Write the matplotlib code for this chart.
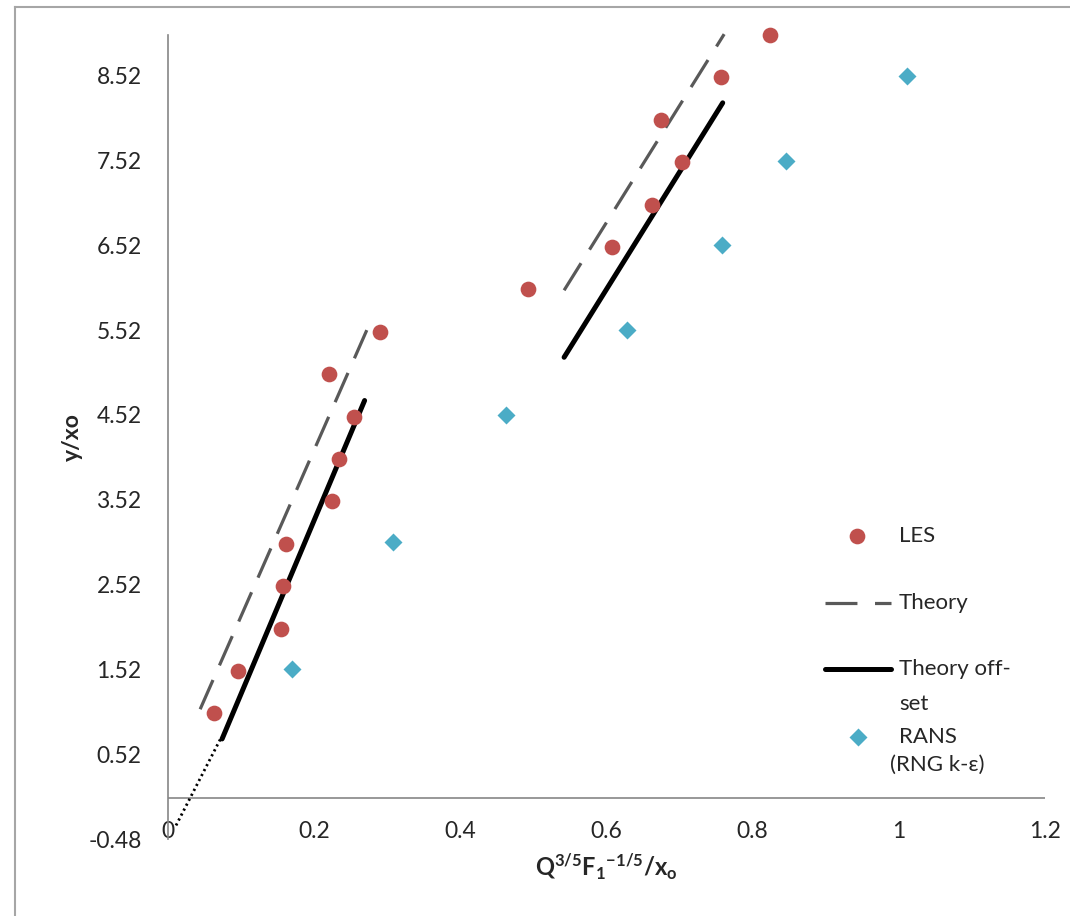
import numpy as np
import matplotlib.pyplot as plt
from matplotlib.lines import Line2D

plt.rcParams['font.family'] = ['Lato', 'DejaVu Sans']
plt.rcParams['mathtext.fontset'] = 'custom'
plt.rcParams['mathtext.rm'] = 'Lato'
plt.rcParams['mathtext.bf'] = 'Lato:bold'
plt.rcParams['mathtext.default'] = 'bf'

# LES points
les_x = [0.063, 0.096, 0.155, 0.157, 0.161, 0.224, 0.234, 0.254, 0.220, 0.290,
         0.492, 0.607, 0.662, 0.703, 0.674, 0.756, 0.824]
les_y = [1.0, 1.5, 2.0, 2.5, 3.0, 3.5, 4.0, 4.5, 5.0, 5.5,
         6.0, 6.5, 7.0, 7.5, 8.0, 8.5, 9.0]

# RANS (RNG k-eps) points
rans_x = [0.170, 0.308, 0.462, 0.628, 0.758, 0.845, 1.011]
rans_y = [1.52, 3.02, 4.52, 5.52, 6.52, 7.52, 8.52]

# theory lines (two segments each)
theory1_x = [0.044, 0.272]
theory1_y = [1.05, 5.52]
theory2_x = [0.542, 0.761]
theory2_y = [5.99, 9.01]
offset1_x = [0.074, 0.269]
offset1_y = [0.70, 4.69]
offset2_x = [0.542, 0.759]
offset2_y = [5.20, 8.20]
extrap_x = [0.011, 0.073]
extrap_y = [-0.32, 0.72]

xticks = [0, 0.2, 0.4, 0.6, 0.8, 1.0, 1.2]
xtick_labels = ['0', '0.2', '0.4', '0.6', '0.8', '1', '1.2']
yticks = [-0.48, 0.52, 1.52, 2.52, 3.52, 4.52, 5.52, 6.52, 7.52, 8.52]
ytick_labels = ['-0.48', '0.52', '1.52', '2.52', '3.52', '4.52', '5.52', '6.52', '7.52', '8.52']

W, H = 1070, 916
fig = plt.figure(figsize=(W / 100, H / 100), dpi=100)
ax = fig.add_axes([168 / W, 1 - 839 / H, (1045 - 168) / W, (839 - 35) / H])

red = '#C0504D'
blue = '#4BACC6'
dash_grey = '#595959'

ax.plot(extrap_x, extrap_y, color='black', lw=2.0, linestyle=(0, (0.8, 1.2)))
ax.plot(theory1_x, theory1_y, color=dash_grey, lw=2.3, dashes=[10, 5])
ax.plot(theory2_x, theory2_y, color=dash_grey, lw=2.3, dashes=[10, 5], clip_on=False)
ax.plot(offset1_x, offset1_y, color='black', lw=3.6, solid_capstyle='round')
ax.plot(offset2_x, offset2_y, color='black', lw=3.6, solid_capstyle='round')
ax.plot(les_x, les_y, 'o', color=red, ms=11.3, mec='none', zorder=4, clip_on=False)
ax.plot(rans_x, rans_y, 'D', color=blue, ms=9.6, mec='none', zorder=4, clip_on=False)

ax.set_xlim(0, 1.2)
ax.set_ylim(-0.48, 9.0)
ax.axhline(0, color='#868686', lw=1.2, zorder=1)

for s in ['top', 'right', 'bottom']:
    ax.spines[s].set_visible(False)
ax.spines['left'].set_color('#868686')
ax.spines['left'].set_linewidth(1.2)

ax.set_xticks(xticks)
ax.set_xticklabels(xtick_labels)
ax.set_yticks(yticks)
ax.set_yticklabels(ytick_labels)
ax.tick_params(axis='both', length=0, labelsize=16.5, colors='#262626')
ax.tick_params(axis='y', pad=19)
ax.tick_params(axis='x', pad=-13)

fig.text(72 / W, 1 - 437 / H, 'y/xo', rotation=90, fontsize=16.5, fontweight='bold',
         ha='center', va='center', color='#262626')
fig.text(606 / W, 1 - 867 / H, r'$Q^{3/5}F_1{}^{-1/5}/x_o$', fontsize=17,
         ha='center', va='center', color='#262626')

# legend drawn by hand to match the spreading of entries
def fx(px):
    return px / W

def fy(py):
    return 1 - py / H

fig.add_artist(Line2D([fx(857)], [fy(536)], marker='o', color=red, ms=11.3, mec='none'))
fig.add_artist(Line2D([fx(825), fx(891)], [fy(603), fy(603)], color=dash_grey, lw=2.3,
                      dashes=[10, 5.5]))
fig.add_artist(Line2D([fx(825), fx(891)], [fy(669), fy(669)], color='black', lw=3.6,
                      solid_capstyle='round'))
fig.add_artist(Line2D([fx(858)], [fy(737)], marker='D', color=blue, ms=9.6, mec='none'))

leg_kw = dict(fontsize=16, ha='left', va='center', color='#262626')
fig.text(fx(899), fy(536), 'LES', **leg_kw)
fig.text(fx(899), fy(603), 'Theory', **leg_kw)
fig.text(fx(899), fy(669), 'Theory off-', **leg_kw)
fig.text(fx(899), fy(704), 'set', **leg_kw)
fig.text(fx(899), fy(737), 'RANS', **leg_kw)
fig.text(fx(890), fy(765), '(RNG k-ε)', **leg_kw)

# outer chart-area frame (cut off at right and bottom)
fig.add_artist(Line2D([fx(15), fx(W)], [fy(7), fy(7)], color='#A6A6A6', lw=1.5))
fig.add_artist(Line2D([fx(15), fx(15)], [fy(7), fy(H)], color='#A6A6A6', lw=1.5))

fig.savefig('out.png', dpi=100)
